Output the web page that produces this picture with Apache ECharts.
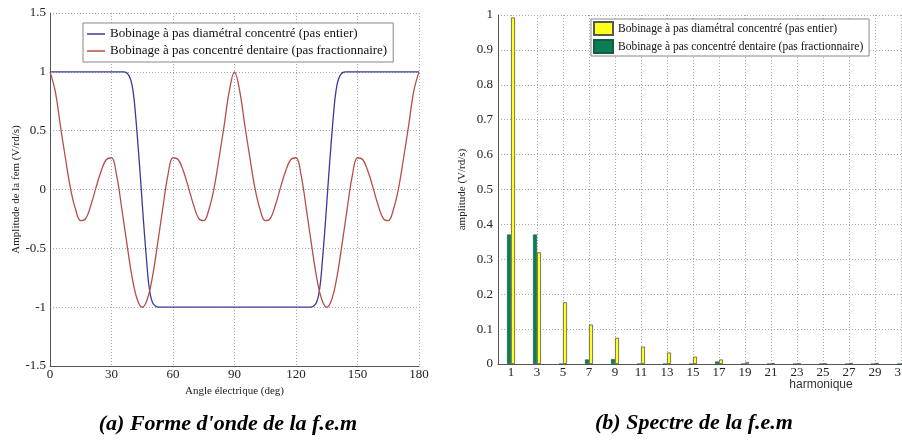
<!DOCTYPE html>
<html>
<head>
<meta charset="utf-8">
<script src="https://cdn.jsdelivr.net/npm/echarts@6/dist/echarts.min.js"></script>
<style>
html,body{margin:0;padding:0;background:#fff;}
#chart{width:902px;height:441px;}
</style>
</head>
<body>
<div id="chart"></div>
<script>
// ---------- (a) waveform ----------
const redAngle = [0,2.5,5,7.5,10,12.5,15,17.5,20,22.5,25,27.5,30,32.5,35,37.5,40,42.5,45,
  47.5,50,52.5,55,57.5,60,62.5,65,67.5,70,72.5,75,77.5,80,82.5,85,87.5,90,
  92.5,95,97.5,100,102.5,105,107.5,110,112.5,115,117.5,120,122.5,125,127.5,130,132.5,135,
  137.5,140,142.5,145,147.5,150,152.5,155,157.5,160,162.5,165,167.5,170,172.5,175,177.5,180];
const redValue = [1,0.84,0.55,0.27,0.01,-0.17,-0.265,-0.245,-0.13,0.02,0.16,0.255,0.27,0.12,-0.16,-0.46,-0.74,-0.93,-1,
  -0.93,-0.74,-0.46,-0.16,0.12,0.27,0.255,0.16,0.02,-0.13,-0.245,-0.265,-0.17,0.01,0.27,0.55,0.84,1,
  0.84,0.55,0.27,0.01,-0.17,-0.265,-0.245,-0.13,0.02,0.16,0.255,0.27,0.12,-0.16,-0.46,-0.74,-0.93,-1,
  -0.93,-0.74,-0.46,-0.16,0.12,0.27,0.255,0.16,0.02,-0.13,-0.245,-0.265,-0.17,0.01,0.27,0.55,0.84,1];
const blueAngle = [0,36,37,38,39,40,41,42,43,44,45,46,47,48,49,50,51,52,53,
  127,128,129,130,131,132,133,134,135,136,137,138,139,140,141,142,143,144,180];
const blueValue = [1,1,0.995,0.98,0.95,0.89,0.77,0.58,0.36,0.13,-0.12,-0.36,-0.58,-0.78,-0.9,-0.96,-0.985,-0.995,-1,
  -1,-0.995,-0.985,-0.96,-0.9,-0.78,-0.58,-0.36,-0.12,0.13,0.36,0.58,0.77,0.89,0.95,0.98,0.995,1,1];

// ---------- (b) spectrum ----------
const harmonics = [1,3,5,7,9,11,13,15,17,19,21,23,25,27,29,31];
const diametralAmp = [0.993,0.32,0.177,0.113,0.075,0.05,0.033,0.021,0.013,0.006,0.002,0.001,0.001,0.003,0.003,0.002];
const dentaireAmp  = [0.371,0.371,0,0.013,0.014,0,0,0,0.007,0,0,0,0,0,0,0];

const nameBlue = 'Bobinage à pas diamétral concentré (pas entier)';
const nameRed  = 'Bobinage à pas concentré dentaire (pas fractionnaire)';

const serif = '"Liberation Serif","Times New Roman",serif';
const gridLine = {show:true, lineStyle:{color:'#a8a8a8', type:[1,2], width:1}};
const axLine = {show:true, onZero:false, lineStyle:{color:'#555', width:1}};

const cats = [];
for (let i = 0; i <= 32; i++) cats.push(String(i));
const oddOnly = (idx) => idx % 2 === 1;

const chart = echarts.init(document.getElementById('chart'), null, {renderer:'canvas'});
chart.setOption({
  backgroundColor:'#fff',
  animation:false,
  textStyle:{fontFamily:serif},
  grid:[
    {left:50, width:369, top:13, height:353, outerBoundsMode:'none'},
    {left:498, width:416, top:15, height:349, outerBoundsMode:'none'}
  ],
  legend:[
    {
      data:[nameBlue, nameRed],
      orient:'vertical', left:83, top:23,
      icon:'rect',
      padding:[4,6,4,4], itemGap:3, itemWidth:18, itemHeight:1.5,
      backgroundColor:'#fff', borderColor:'#888', borderWidth:1,
      textStyle:{fontFamily:serif, fontSize:13, color:'#111', lineHeight:14}
    },
    {
      data:[nameBlue+' ', nameRed+' '],
      orient:'vertical', left:591, top:19,
      padding:[2,3,2,2], itemGap:3, itemWidth:19, itemHeight:13,
      icon:'rect',
      backgroundColor:'#fff', borderColor:'#888', borderWidth:1,
      textStyle:{fontFamily:serif, fontSize:11.5, color:'#111'}
    }
  ],
  xAxis:[
    {
      type:'value', gridIndex:0, min:0, max:180, interval:30,
      name:'Angle électrique (deg)', nameLocation:'middle', nameGap:13,
      nameTextStyle:{fontFamily:serif, fontSize:11, color:'#222'},
      axisLine:axLine, axisTick:{show:false},
      axisLabel:{fontFamily:serif, fontSize:13, color:'#222', margin:2},
      splitLine:gridLine
    },
    {
      type:'category', gridIndex:1, data:cats, boundaryGap:false,
      axisLine:axLine, axisTick:{show:false},
      axisLabel:{fontFamily:serif, fontSize:13, color:'#222', margin:2, interval:oddOnly},
      splitLine:Object.assign({interval:oddOnly}, gridLine)
    }
  ],
  yAxis:[
    {
      type:'value', gridIndex:0, min:-1.5, max:1.5, interval:0.5,
      name:'Amplitude de la fem (V/rd/s)', nameLocation:'middle', nameGap:28,
      nameTextStyle:{fontFamily:serif, fontSize:11, color:'#222'},
      axisLine:axLine, axisTick:{show:false},
      axisLabel:{fontFamily:serif, fontSize:13, color:'#222', margin:4},
      splitLine:gridLine
    },
    {
      type:'value', gridIndex:1, min:0, max:1, interval:0.1,
      name:'amplitude (V/rd/s)', nameLocation:'middle', nameGap:30,
      nameTextStyle:{fontFamily:serif, fontSize:11, color:'#222'},
      axisLine:axLine, axisTick:{show:false},
      axisLabel:{fontFamily:serif, fontSize:13, color:'#222', margin:5},
      splitLine:gridLine
    }
  ],
  series:[
    {
      name:nameBlue, type:'line', xAxisIndex:0, yAxisIndex:0,
      data:blueAngle.map((a,i)=>[a, blueValue[i]]),
      symbol:'none', smooth:0.3, color:'#3b3b95',
      lineStyle:{width:1.3, color:'#3b3b95'}
    },
    {
      name:nameRed, type:'line', xAxisIndex:0, yAxisIndex:0,
      data:redAngle.map((a,i)=>[a, redValue[i]]),
      symbol:'none', smooth:0.4, color:'#b64e4a',
      lineStyle:{width:1.3, color:'#b64e4a'}
    },
    {
      name:nameRed+' ', type:'bar', xAxisIndex:1, yAxisIndex:1,
      data:harmonics.map((h,i)=>[String(h), dentaireAmp[i]]),
      barWidth:4, barGap:'0%',
      itemStyle:{color:'#0b7d55', borderColor:'#175c3e', borderWidth:0.6}
    },
    {
      name:nameBlue+' ', type:'bar', xAxisIndex:1, yAxisIndex:1,
      data:harmonics.map((h,i)=>[String(h), diametralAmp[i]]),
      barWidth:4, barGap:'0%',
      itemStyle:{color:'#ffff1a', borderColor:'#555', borderWidth:0.8}
    }
  ],
  graphic:[
    {type:'text', x:821, y:385, style:{text:'harmonique', font:'12px "Liberation Sans",Arial,sans-serif', fill:'#333', textAlign:'center', textVerticalAlign:'middle'}},
    {type:'text', x:228, y:424, style:{text:"(a) Forme d'onde de la f.e.m", font:'italic bold 22px "Liberation Serif","Times New Roman",serif', fill:'#000', textAlign:'center', textVerticalAlign:'middle'}},
    {type:'text', x:694, y:423, style:{text:'(b) Spectre de la f.e.m', font:'italic bold 22px "Liberation Serif","Times New Roman",serif', fill:'#000', textAlign:'center', textVerticalAlign:'middle'}}
  ]
});
</script>
</body>
</html>
